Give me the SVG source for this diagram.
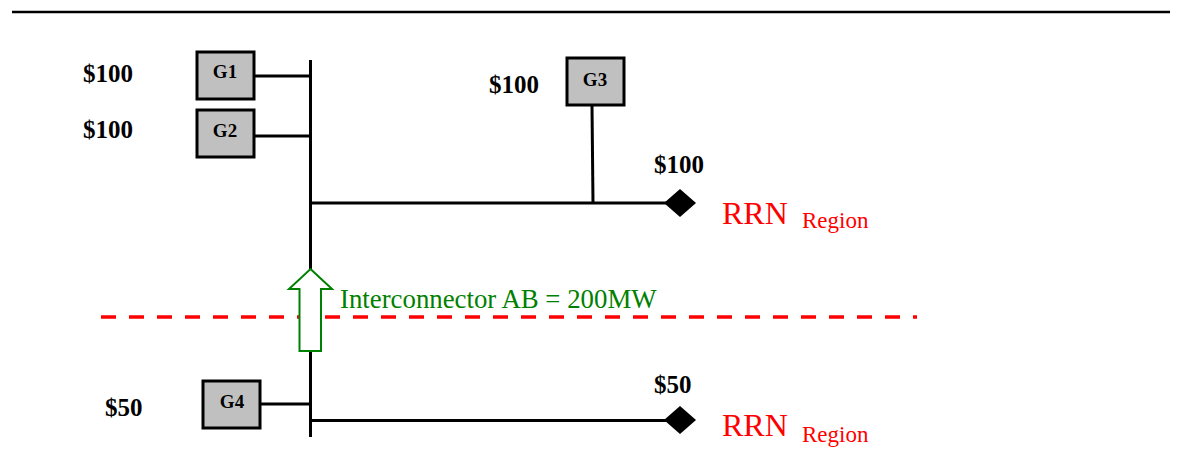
<svg xmlns="http://www.w3.org/2000/svg" width="1182" height="457" viewBox="0 0 1182 457">
<style>
.box{fill:#c0c0c0;stroke:#000;stroke-width:3}
.wire{stroke:#000;stroke-width:3;fill:none}
.price{font-family:"Liberation Serif",serif;font-weight:bold;font-size:25px;fill:#000}
.gl{font-family:"Liberation Serif",serif;font-weight:bold;font-size:19px;fill:#000;text-anchor:middle}
.rrn{font-family:"Liberation Serif",serif;font-size:32px;fill:#ff0000}
.reg{font-family:"Liberation Serif",serif;font-size:23px;fill:#ff0000}
</style>
<rect width="1182" height="457" fill="#fff"/>
<line x1="12" y1="12" x2="1170" y2="12" stroke="#000" stroke-width="2.5"/>
<line x1="101" y1="317" x2="917" y2="317" stroke="#ff0000" stroke-width="3.5" stroke-dasharray="15 13"/>
<g id="connectors">
<line class="wire" x1="310.5" y1="60" x2="310.5" y2="437"/>
<line class="wire" x1="255" y1="76" x2="310.5" y2="76"/>
<line class="wire" x1="255" y1="136" x2="310.5" y2="136"/>
<line class="wire" x1="310.5" y1="203" x2="666" y2="203"/>
<line class="wire" x1="592" y1="106" x2="593" y2="203"/>
<line class="wire" x1="261" y1="404" x2="310.5" y2="404"/>
<line class="wire" x1="310.5" y1="420.5" x2="666" y2="420.5"/>
</g>
<g id="G1"><rect class="box" x="197" y="52" width="57" height="47"/><text class="gl" x="225" y="78">G1</text></g>
<g id="G2"><rect class="box" x="197" y="110" width="57" height="47"/><text class="gl" x="225" y="137">G2</text></g>
<g id="G3"><rect class="box" x="567" y="58" width="57" height="47"/><text class="gl" x="595" y="86">G3</text></g>
<g id="G4"><rect class="box" x="203" y="381" width="57" height="47"/><text class="gl" x="232" y="408">G4</text></g>
<g id="node-a"><polygon points="664,203 680,189 696,203 680,217" fill="#000"/></g>
<g id="node-b"><polygon points="664,420 680,406 696,420 680,434" fill="#000"/></g>
<text class="price" x="83" y="82">$100</text>
<text class="price" x="83" y="138">$100</text>
<text class="price" x="489" y="93">$100</text>
<text class="price" x="654" y="173">$100</text>
<text class="price" x="105" y="416">$50</text>
<text class="price" x="654" y="393">$50</text>
<text class="rrn" x="722" y="224">RRN</text>
<text class="reg" x="802" y="228">Region</text>
<text class="rrn" x="722" y="436">RRN</text>
<text class="reg" x="802" y="442">Region</text>
<g id="interconnector">
<polygon points="310.5,269 332,289 321,289 321,351 299.5,351 299.5,289 289,289" fill="#fff" stroke="#008000" stroke-width="2"/>
<text x="340" y="308" font-family="Liberation Serif, serif" font-size="26.8" fill="#008000">Interconnector AB = 200MW</text>
</g>
</svg>
